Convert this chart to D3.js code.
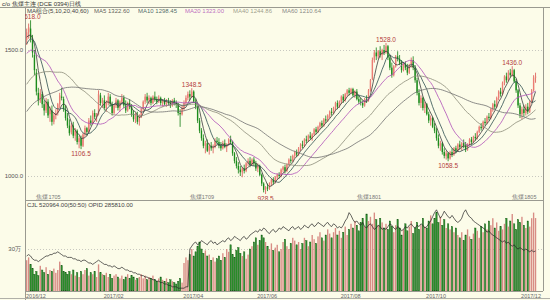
<!DOCTYPE html>
<html>
<head>
<meta charset="utf-8">
<script src="https://cdnjs.cloudflare.com/ajax/libs/d3/7.8.5/d3.min.js"></script>
<style>
  body { margin: 0; background: #fcfce9; }
  svg { display: block; }
  text { font-family: "Liberation Sans", Arial, sans-serif; }
</style>
</head>
<body>
<div class="visHolder"></div>
<script>
const w = 550;
const h = 300;

// daily bars [open, high, low, close], 2016/12/01 .. 2017/12
const ohlc = [
  // 2016/12
  [1540,1585,1520,1570],[1570,1605,1545,1590],[1585,1618,1530,1545],[1540,1560,1470,1490],
  [1480,1500,1400,1420],[1410,1425,1320,1335],[1330,1350,1280,1300],[1300,1345,1290,1330],
  [1325,1335,1270,1285],[1285,1300,1240,1260],[1260,1310,1250,1295],[1295,1305,1230,1240],
  [1245,1275,1215,1265],[1260,1280,1200,1215],[1215,1250,1205,1240],[1240,1265,1225,1250],
  [1250,1290,1240,1285],[1285,1330,1270,1320],[1315,1350,1300,1310],[1305,1315,1255,1265],
  [1265,1280,1220,1230],[1230,1250,1190,1200],
  // 2017/01
  [1200,1225,1160,1170],[1175,1210,1165,1200],[1200,1215,1150,1160],[1160,1190,1140,1180],
  [1180,1185,1125,1135],[1135,1160,1110,1150],[1150,1160,1106.5,1120],[1120,1170,1115,1165],
  [1165,1200,1155,1190],[1190,1195,1160,1175],[1175,1230,1170,1220],[1220,1240,1200,1210],
  [1210,1260,1205,1250],[1250,1265,1225,1235],[1235,1250,1215,1245],[1245,1340,1240,1325],
  [1320,1330,1280,1290],[1290,1310,1270,1300],
  // 2017/02
  [1300,1320,1260,1270],[1270,1300,1255,1290],[1290,1330,1280,1315],[1315,1325,1275,1285],
  [1285,1295,1240,1250],[1250,1285,1245,1280],[1280,1310,1270,1300],[1300,1305,1260,1270],
  [1270,1300,1255,1295],[1295,1325,1285,1310],[1310,1320,1270,1280],[1280,1300,1250,1260],
  [1260,1295,1255,1290],[1290,1305,1265,1275],[1275,1285,1235,1245],[1245,1260,1215,1225],
  [1225,1250,1210,1240],[1240,1255,1205,1215],
  // 2017/03
  [1215,1245,1200,1235],[1235,1270,1230,1265],[1265,1300,1255,1295],[1295,1325,1285,1315],
  [1315,1330,1290,1300],[1300,1320,1285,1310],[1310,1315,1280,1290],[1290,1320,1285,1315],
  [1315,1335,1295,1305],[1305,1315,1285,1295],[1295,1320,1290,1310],[1310,1315,1280,1290],
  [1290,1305,1275,1300],[1300,1310,1280,1285],[1285,1305,1275,1295],[1295,1310,1280,1290],
  [1290,1300,1270,1280],[1280,1305,1275,1300],[1300,1310,1280,1290],[1290,1300,1270,1285],
  [1285,1290,1240,1250],[1250,1265,1195,1245],[1245,1280,1240,1270],
  // 2017/04
  [1270,1300,1260,1290],[1290,1320,1280,1310],[1310,1335,1300,1325],[1325,1340,1300,1315],
  [1315,1348.5,1310,1335],[1335,1340,1290,1295],[1295,1305,1265,1275],[1275,1280,1210,1220],
  [1220,1230,1170,1180],[1180,1190,1140,1150],[1150,1165,1110,1120],[1120,1140,1090,1130],
  [1130,1145,1095,1100],[1100,1130,1085,1120],[1120,1135,1100,1110],[1110,1125,1090,1115],
  [1115,1150,1110,1140],[1140,1155,1125,1135],
  // 2017/05
  [1135,1150,1110,1120],[1120,1135,1100,1110],[1110,1140,1105,1130],[1130,1145,1110,1115],
  [1115,1130,1095,1125],[1125,1150,1120,1145],[1145,1160,1125,1135],[1135,1140,1080,1090],
  [1090,1095,1050,1060],[1060,1075,1030,1040],[1040,1055,1010,1025],[1025,1040,1000,1015],
  [1015,1035,995,1030],[1030,1045,1010,1020],[1020,1055,1015,1050],[1050,1070,1040,1060],
  [1060,1075,1035,1045],[1045,1070,1040,1065],[1065,1075,1040,1050],[1050,1060,1020,1030],
  // 2017/06
  [1030,1050,1015,1040],[1040,1045,1000,1005],[1005,1010,960,970],[970,975,935,945],
  [945,960,928.5,955],[955,970,940,950],[950,975,945,970],[970,990,960,985],
  [985,995,965,975],[975,1000,970,995],[995,1010,985,1005],[1005,1015,990,1000],
  [1000,1030,995,1025],[1025,1040,1015,1035],[1035,1045,1010,1020],[1020,1050,1015,1045],
  [1045,1070,1040,1065],[1065,1080,1050,1060],[1060,1085,1055,1080],[1080,1100,1070,1095],
  [1095,1105,1075,1085],[1085,1115,1080,1110],
  // 2017/07
  [1110,1130,1100,1125],[1125,1140,1110,1120],[1120,1150,1115,1145],[1145,1160,1130,1140],
  [1140,1165,1135,1160],[1160,1175,1145,1150],[1150,1170,1140,1165],[1165,1190,1160,1185],
  [1185,1195,1165,1175],[1175,1200,1170,1195],[1195,1215,1185,1210],[1210,1220,1190,1200],
  [1200,1230,1195,1225],[1225,1240,1210,1220],[1220,1245,1215,1240],[1240,1260,1230,1255],
  [1255,1270,1240,1250],[1250,1275,1245,1270],[1270,1295,1260,1290],[1290,1300,1265,1275],
  [1275,1300,1270,1295],
  // 2017/08
  [1295,1320,1285,1315],[1315,1325,1290,1300],[1300,1330,1295,1325],[1325,1345,1315,1340],
  [1340,1350,1320,1330],[1330,1350,1325,1345],[1345,1350,1315,1320],[1320,1340,1310,1335],
  [1335,1345,1300,1305],[1305,1320,1285,1295],[1295,1310,1280,1290],[1290,1300,1270,1280],
  [1280,1310,1275,1305],[1305,1320,1290,1300],[1300,1345,1295,1340],[1340,1385,1335,1380],
  [1385,1470,1380,1460],[1460,1500,1450,1490],[1490,1510,1460,1475],[1475,1500,1465,1495],
  [1495,1515,1470,1480],[1480,1505,1460,1500],[1500,1520,1480,1490],
  // 2017/09
  [1490,1528,1485,1515],[1515,1520,1460,1470],[1470,1480,1420,1430],[1430,1450,1390,1400],
  [1400,1440,1395,1435],[1435,1480,1430,1475],[1475,1495,1455,1465],[1465,1480,1440,1450],
  [1450,1460,1410,1420],[1420,1450,1415,1445],[1445,1455,1420,1430],[1430,1445,1400,1410],
  [1410,1445,1405,1440],[1440,1470,1430,1460],[1460,1475,1420,1430],[1430,1440,1370,1380],
  [1380,1390,1320,1330],[1330,1345,1280,1290],[1290,1320,1270,1310],[1310,1315,1260,1270],
  [1270,1295,1250,1285],
  // 2017/10
  [1285,1290,1240,1245],[1245,1255,1210,1220],[1220,1240,1200,1230],[1230,1235,1190,1195],
  [1195,1210,1170,1180],[1180,1190,1140,1150],[1150,1165,1110,1120],[1120,1140,1100,1130],
  [1130,1135,1085,1095],[1095,1110,1070,1080],[1080,1100,1065,1090],[1090,1095,1058.5,1070],
  [1070,1100,1065,1095],[1095,1110,1075,1085],[1085,1115,1080,1110],[1110,1120,1090,1100],
  [1100,1130,1095,1125],
  // 2017/11
  [1125,1140,1105,1115],[1115,1135,1100,1130],[1130,1145,1110,1120],[1120,1135,1095,1105],
  [1105,1130,1100,1125],[1125,1150,1120,1145],[1145,1155,1125,1135],[1135,1160,1130,1155],
  [1155,1170,1140,1150],[1150,1180,1145,1175],[1175,1200,1170,1195],[1195,1210,1180,1190],
  [1190,1220,1185,1215],[1215,1230,1200,1210],[1210,1240,1205,1235],[1235,1250,1220,1230],
  [1230,1270,1225,1265],[1265,1290,1255,1285],[1285,1300,1265,1275],[1275,1315,1270,1310],
  [1310,1340,1300,1335],[1335,1350,1315,1325],
  // 2017/12
  [1325,1375,1320,1370],[1370,1400,1360,1395],[1395,1410,1370,1380],[1380,1420,1375,1410],
  [1410,1425,1390,1400],[1400,1436,1395,1420],[1420,1425,1370,1375],[1375,1385,1330,1340],
  [1340,1345,1270,1280],[1280,1290,1230,1245],[1245,1275,1225,1265],[1265,1280,1235,1250],
  [1250,1285,1240,1275],[1275,1290,1245,1255],[1255,1300,1250,1295],[1295,1345,1290,1340],
  [1340,1400,1335,1390],[1390,1410,1370,1395]
];

// closes before the first bar, only used to start the moving averages
const prevCloses = [
  960,975,990,985,1000,1010,1005,1020,1035,1030,1045,1060,1055,1070,1080,1075,1090,1100,1095,1110,
  1130,1150,1145,1170,1190,1180,1200,1220,1210,1235,1250,1240,1265,1280,1270,1290,1310,
  1330,1360,1400,1450,1430,1480,1520,1560,1500,1420,1380,1350,1400,1450,1480,1510,1500,1540,1560,1530,1550,1545
];

// volume (10k lots)
const volume = [
  22,24,19,16,12,14,11,18,15,13,17,12,15,14,16,13,15,21,18,14,13,12,
  14,12,15,11,13,10,14,12,15,16,11,13,12,14,10,19,13,12,
  11,13,10,12,9,11,12,10,9,11,8,10,12,9,11,10,8,9,
  10,12,9,11,8,10,9,11,8,7,9,10,8,7,9,6,8,7,6,5,7,9,6,
  20,24,22,26,30,25,28,32,35,30,27,29,25,26,22,24,21,23,
  25,22,27,24,30,28,33,26,24,29,31,27,25,28,23,26,30,32,35,38,
  33,36,40,38,35,32,30,34,29,31,33,28,30,35,37,32,30,34,38,36,33,35,
  30,34,38,36,32,35,40,37,34,39,42,38,36,40,44,41,38,42,45,40,43,
  38,42,46,40,44,48,45,50,47,43,49,52,46,55,50,53,48,56,51,47,52,49,45,
  48,44,50,46,42,47,51,45,40,44,48,43,46,50,41,45,49,44,47,52,46,
  45,50,54,48,52,56,49,53,47,51,45,48,44,46,42,45,40,
  38,42,36,40,44,39,37,41,45,43,38,46,42,48,44,50,47,52,45,49,43,46,
  44,48,52,46,50,55,48,44,51,49,53,47,45,50,46,52,56,52.1
];

// open interest (10k lots)
const openInt = [
  25,26,25,23,22,22,21,22,23,24,25,25,26,26,27,27,28,27,26,25,25,24,
  24,24,23,23,22,22,21,22,22,21,20,20,19,20,21,22,21,20,
  19,19,18,18,17,18,17,16,16,17,16,15,15,14,14,13,13,12,
  12,11,11,10,10,9,9,8,8,7,7,6,6,5,5,4,4,3,3,3,2,2,2,
  2,3,3,30,32,34,35,33,34,36,35,34,33,35,36,34,35,33,
  34,35,36,35,37,38,36,37,39,38,37,36,38,39,37,38,40,41,42,43,
  42,44,43,45,44,42,41,43,44,42,43,45,44,46,45,44,43,45,46,44,45,46,
  44,45,47,46,45,47,48,46,47,49,48,47,46,48,49,47,46,48,47,45,46,
  45,47,50,52,56,54,51,49,50,48,47,49,46,45,47,48,46,44,45,47,46,44,45,
  44,46,48,47,45,44,46,45,43,44,46,45,47,48,46,45,47,46,48,47,45,
  46,48,50,53,56,58,55,52,54,57,55,53,52,54,52,50,49,
  50,52,56,58,55,53,52,50,49,48,47,46,45,44,42,43,41,40,39,38,37,36,
  35,36,34,35,33,32,33,31,30,31,30,29,30,29,28,29,28,28.6
];

const monthLabels = ['2016/12', '2017/02', '2017/04', '2017/06', '2017/08', '2017/10', '2017/12'];
const monthIndex = [0, 40, 81, 119, 162, 206, 245];

const contractNames = ['焦煤1705', '焦煤1709', '焦煤1801', '焦煤1805'];
const contractIndex = [5, 84, 170, 250];

// extreme points: [bar index, 'high' | 'low']
const extremes = [[2, 'high'], [28, 'low'], [85, 'high'], [123, 'low'], [185, 'high'], [217, 'low'], [250, 'high']];

const maPeriods = [5, 10, 20, 40, 60];
const maNames = ['MA5', 'MA10', 'MA20', 'MA40', 'MA60'];
const maLast = ['1322.60', '1298.45', '1323.00', '1244.86', '1210.64'];
const maColors = ['#3c3c3c', '#2f4f4f', '#b050b8', '#8c8c78', '#707070'];

const priceTicks = [1000, 1500];
const volTicks = [30];

const left = 25, right = 543;
const priceTop = 7, priceBottom = 200, volBottom = 291;

const svg = d3.select('.visHolder').append('svg').attr('width', w).attr('height', h);
svg.append('rect').attr('width', w).attr('height', h).attr('fill', '#fcfce9');

const n = ohlc.length;
const x = d3.scaleBand().domain(d3.range(n)).range([left + 1, left + 1 + n * 1.94]).paddingInner(0.3);
const step = x.step();
const cx = i => x(0) + i * step + x.bandwidth() / 2;
const y = d3.scaleLinear().domain([1000, 1500]).range([176, 50]);
const yv = d3.scaleLinear().domain([0, 30]).range([volBottom, 249]);

svg.append('clipPath').attr('id', 'pclip').append('rect')
  .attr('x', left).attr('y', priceTop).attr('width', right - left).attr('height', priceBottom - priceTop);
svg.append('clipPath').attr('id', 'vclip').append('rect')
  .attr('x', left).attr('y', priceBottom).attr('width', right - left).attr('height', volBottom - priceBottom);

// grid + left labels
const gridStyle = g => {
  g.select('.domain').remove();
  g.selectAll('line').attr('stroke', '#c8c8c0').attr('stroke-dasharray', '1,2');
  g.selectAll('text').attr('fill', '#555').attr('font-size', 6);
};
svg.append('g').attr('transform', 'translate(' + left + ',0)')
  .call(d3.axisLeft(y).tickValues(priceTicks).tickSize(-(right - left)).tickPadding(2).tickFormat(d3.format('.1f')))
  .call(gridStyle);
svg.append('g').attr('transform', 'translate(' + left + ',0)')
  .call(d3.axisLeft(yv).tickValues(volTicks).tickSize(-(right - left)).tickPadding(4).tickFormat(d => d + '万'))
  .call(gridStyle);

// frame lines
const frame = svg.append('g').attr('stroke', '#9a9a90').attr('stroke-width', 1).attr('shape-rendering', 'crispEdges');
frame.append('line').attr('x1', 0).attr('x2', w).attr('y1', priceTop + 0.5).attr('y2', priceTop + 0.5);
frame.append('line').attr('x1', left).attr('x2', right).attr('y1', priceBottom + 0.5).attr('y2', priceBottom + 0.5);
frame.append('line').attr('x1', left).attr('x2', right).attr('y1', volBottom + 0.5).attr('y2', volBottom + 0.5);
frame.append('line').attr('x1', left + 0.5).attr('x2', left + 0.5).attr('y1', priceTop).attr('y2', h);
frame.append('line').attr('x1', right + 0.5).attr('x2', right + 0.5).attr('y1', priceTop).attr('y2', volBottom);
frame.append('line').attr('x1', 0).attr('x2', w).attr('y1', h - 1.5).attr('y2', h - 1.5).attr('stroke', '#b0b0a8');

// moving averages
const allCloses = prevCloses.concat(ohlc.map(d => d[3]));
const off = prevCloses.length;
const maData = maPeriods.map(p => d3.range(n).map(i => d3.mean(allCloses.slice(off + i - p + 1, off + i + 1))));

const pricePlot = svg.append('g').attr('clip-path', 'url(#pclip)');

// candles
const candles = pricePlot.selectAll('g.candle').data(ohlc).enter().append('g');
candles.append('line')
  .attr('x1', (d, i) => cx(i)).attr('x2', (d, i) => cx(i))
  .attr('y1', d => y(d[1])).attr('y2', d => y(d[2]))
  .attr('stroke', d => d[3] >= d[0] ? '#d9534f' : '#137f13').attr('stroke-width', 0.8);
candles.append('rect')
  .attr('x', (d, i) => x(i))
  .attr('y', d => y(Math.max(d[0], d[3])))
  .attr('width', x.bandwidth())
  .attr('height', d => Math.max(1, Math.abs(y(d[0]) - y(d[3]))))
  .attr('fill', d => d[3] >= d[0] ? '#ec7d74' : '#1c8c1c');

const line = d3.line().x((d, i) => cx(i)).y(d => y(d));
pricePlot.selectAll('path.ma').data(maData).enter().append('path')
  .attr('d', line).attr('fill', 'none')
  .attr('stroke', (d, k) => maColors[k]).attr('stroke-width', 0.8);

// extreme labels
svg.append('g').selectAll('text').data(extremes).enter().append('text')
  .attr('x', d => cx(d[0]))
  .attr('y', d => d[1] === 'high' ? y(ohlc[d[0]][1]) - 1 : y(ohlc[d[0]][2]) + 7)
  .attr('text-anchor', 'middle').attr('font-size', 6.5).attr('fill', '#b3403c')
  .attr('clip-path', 'url(#pclip)')
  .text(d => d3.format('.1f')(d[1] === 'high' ? ohlc[d[0]][1] : ohlc[d[0]][2]));

// contract switch labels
svg.append('g').attr('clip-path', 'url(#pclip)').selectAll('text').data(contractNames).enter().append('text')
  .attr('x', (d, k) => cx(contractIndex[k]))
  .attr('y', priceBottom - 1.5)
  .attr('font-size', 5.5).attr('fill', '#777')
  .text(d => d);

// title + legend
svg.append('text').attr('x', 2).attr('y', 5.5).attr('font-size', 6).attr('fill', '#333')
  .text('c/o 焦煤主连 (DCE 0394)日线');
const legend = svg.append('g').attr('font-size', 6);
legend.append('text').attr('x', 27).attr('y', 13).attr('fill', '#444').text('MA组合(5,10,20,40,60)');
const legendX = [94, 138, 185, 233, 282];
maNames.forEach((m, k) => {
  legend.append('text').attr('x', legendX[k]).attr('y', 13).attr('fill', maColors[k])
    .attr('fill-opacity', 0.85).text(m + ' ' + maLast[k]);
});

// volume panel
const volPlot = svg.append('g').attr('clip-path', 'url(#vclip)');
volPlot.selectAll('rect').data(volume).enter().append('rect')
  .attr('x', (d, i) => x(i))
  .attr('y', d => yv(d))
  .attr('width', x.bandwidth())
  .attr('height', d => volBottom - yv(d))
  .attr('fill', (d, i) => ohlc[i][3] >= ohlc[i][0] ? '#d88c84' : '#2b902b')
  .attr('stroke', (d, i) => ohlc[i][3] >= ohlc[i][0] ? 'none' : '#175a17')
  .attr('stroke-width', 0.4);
volPlot.append('path').datum(openInt)
  .attr('d', d3.line().x((d, i) => cx(i)).y(d => yv(d)))
  .attr('fill', 'none').attr('stroke', '#222').attr('stroke-width', 0.7);

svg.append('text').attr('x', 27).attr('y', 207).attr('font-size', 6).attr('fill', '#444')
  .text('CJL  520964.00(50:50)     OPID  285810.00');

// month axis
const xAxis = svg.append('g').attr('transform', 'translate(0,' + volBottom + ')')
  .call(d3.axisBottom(x).tickValues(monthIndex).tickSize(0).tickPadding(3)
    .tickFormat((d, k) => monthLabels[k]));
xAxis.select('.domain').remove();
xAxis.selectAll('text').attr('font-size', 5.5).attr('fill', '#666')
  .attr('text-anchor', (d, k) => k === monthIndex.length - 1 ? 'end' : 'start')
  .attr('x', (d, k) => k === monthIndex.length - 1 ? right - 2 - x(d) - x.bandwidth() / 2 : -x.bandwidth() / 2);
</script>
</body>
</html>
